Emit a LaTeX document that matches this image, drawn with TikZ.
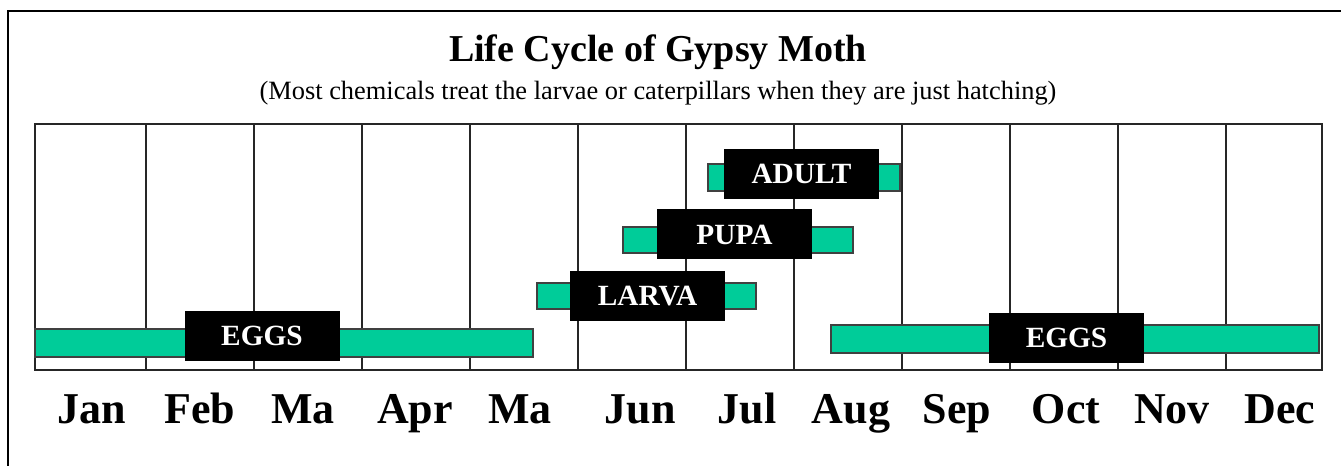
\documentclass[tikz,border=0pt]{standalone}
\usepackage{fontspec}
\setmainfont{Liberation Serif}
\definecolor{mothgreen}{RGB}{0,204,153}
\begin{document}
\begin{tikzpicture}[x=0.75pt,y=-0.75pt,
  frameline/.style={line width=1.9pt,black},
  gridline/.style={line width=1.1pt,black!85},
  greenbar/.style={draw=black!75,line width=0.8pt,fill=mothgreen,inner sep=0pt,outer sep=0pt},
  stagetag/.style={fill=black,text=white,font=\bfseries\fontsize{22}{24}\selectfont,inner sep=0pt,outer sep=0pt,minimum width=116.25pt,minimum height=37.5pt},
  monthlabel/.style={font=\bfseries\fontsize{33}{36}\selectfont,anchor=base,inner sep=0pt},
]
\useasboundingbox (0,0) rectangle (1341,466);
\fill[white] (0,0) rectangle (1341,466);
% outer frame (right and bottom edges lie outside the picture)
\coordinate (fbl) at (8,472);
\coordinate (ftl) at (8,11);
\coordinate (ftr) at (1348,11);
\draw[frameline] (fbl) -- (ftl) -- (ftr);
% title
\node[font=\bfseries\fontsize{28.5}{30}\selectfont,anchor=base,inner sep=0pt] (title) at (658,62) {Life Cycle of Gypsy Moth};
\node[font=\fontsize{19.8}{22}\selectfont,anchor=base,inner sep=0pt] (subtitle) at (658,100) {(Most chemicals treat the larvae or caterpillars when they are just hatching)};
% grid
\draw[gridline] (35,124) rectangle (1322,370);
\foreach \gx in {146,254,362,470,578,686,794,902,1010,1118,1226}
  \draw[gridline] (\gx,124) -- (\gx,370);
% green bars
\node[greenbar,minimum width=373.5pt,minimum height=21pt] (eggsAbar) at (284,343) {};
\node[greenbar,minimum width=164.25pt,minimum height=19.5pt] (larvabar) at (646.5,296) {};
\node[greenbar,minimum width=172.5pt,minimum height=19.5pt] (pupabar) at (738,240) {};
\node[greenbar,minimum width=144pt,minimum height=20.25pt] (adultbar) at (804,177.5) {};
\node[greenbar,minimum width=366pt,minimum height=21pt] (eggsBbar) at (1075,339) {};
% black stage tags
\node[stagetag] (eggsA) at (262,336) {\raisebox{-2.2pt}{EGGS}};
\node[stagetag] (larva) at (647.5,296) {\raisebox{-2.2pt}{LARVA}};
\node[stagetag] (pupa) at (734.5,234.5) {\raisebox{-2.2pt}{PUPA}};
\node[stagetag] (adult) at (801.5,174) {\raisebox{-2.2pt}{ADULT}};
\node[stagetag] (eggsB) at (1066.5,338) {\raisebox{-2.2pt}{EGGS}};
% months
\node[monthlabel] (jan) at (92,423) {Jan};
\node[monthlabel] (feb) at (200,423) {Feb};
\node[monthlabel] (mar) at (303,423) {Ma};
\node[monthlabel] (apr) at (415,423) {Apr};
\node[monthlabel] (may) at (520,423) {Ma};
\node[monthlabel] (jun) at (640,423) {Jun};
\node[monthlabel] (jul) at (747,423) {Jul};
\node[monthlabel] (aug) at (851,423) {Aug};
\node[monthlabel] (sep) at (957,423) {Sep};
\node[monthlabel] (oct) at (1066,423) {Oct};
\node[monthlabel] (nov) at (1172,423) {Nov};
\node[monthlabel] (dec) at (1280,423) {Dec};
\end{tikzpicture}
\end{document}
